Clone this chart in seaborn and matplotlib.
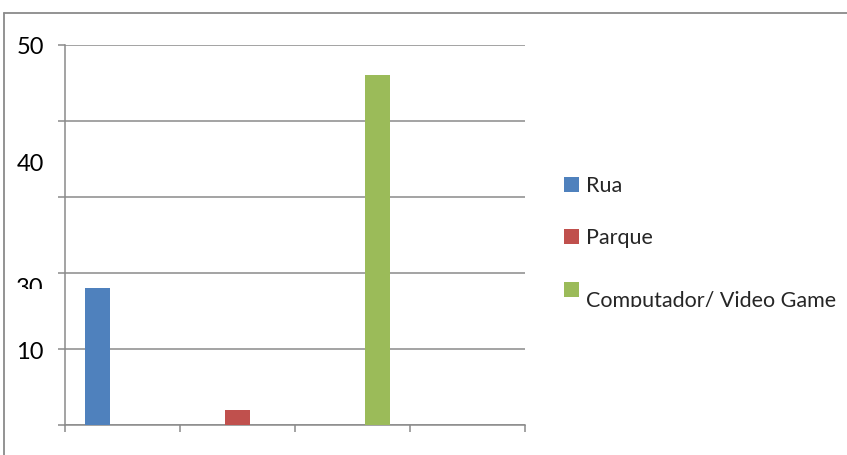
import pandas as pd
import numpy as np
import matplotlib.pyplot as plt
import seaborn as sns
from matplotlib.patches import Patch, Rectangle
from matplotlib.lines import Line2D

sns.set_style('white')
plt.rcParams['font.family'] = ['Lato', 'DejaVu Sans']

# Data
slots = ['1', '2', '3', '4']
series = ['Rua', 'Parque', 'Computador/ Video Game']
rua = [18, 0, 0, 0]
parque = [0, 2, 0, 0]
computador = [0, 0, 46, 0]
colors = ['#4F81BD', '#C0504D', '#9BBB59']

# the axis labels in the original are misplaced; keep them where they were drawn
ylabel_texts = ['50', '40', '30', '10']
ylabel_pos = [49.7, 34.3, 18.0, 9.6]

df = pd.DataFrame({
    'slot': slots * 3,
    'serie': np.repeat(series, len(slots)),
    'value': rua + parque + computador,
})

gray = '#8a8a8a'
fig = plt.figure(figsize=(8.47, 4.55), dpi=100)
ax = fig.add_axes([65/847, 1 - 425/455, 460/847, 380/455])

sns.barplot(data=df, x='slot', y='value', hue='serie', palette=colors,
            saturation=1, width=0.65, ax=ax, legend=False, zorder=3,
            linewidth=0, edgecolor='none')

ax.set_xlim(-0.5, 3.5)
ax.set_ylim(0, 50)
ax.set_xticks(np.arange(-0.5, 4, 1))
ax.set_xticklabels([])
ax.set_yticks([0, 10, 20, 30, 40, 50])
ax.set_yticklabels([])
ax.set_xlabel('')
ax.set_ylabel('')
ax.grid(axis='y', color=gray, linewidth=1.1, zorder=0)
ax.set_axisbelow(True)
ax.tick_params(axis='both', direction='out', length=5, width=1.1, color=gray,
               left=True, bottom=True)
for side in ['top', 'right']:
    ax.spines[side].set_visible(False)
for side in ['left', 'bottom']:
    ax.spines[side].set_color(gray)
    ax.spines[side].set_linewidth(1.1)

clip_30 = Rectangle((0, 1 - 289/455), 1, 1, transform=fig.transFigure)
for lab, pos in zip(ylabel_texts, ylabel_pos):
    t = ax.text(-0.046, pos, lab, transform=ax.get_yaxis_transform(),
                ha='right', va='center', fontsize=17, color='black')
    if lab == '30':
        t.set_clip_on(True)
        t.set_clip_path(clip_30)

handles = [Patch(facecolor=c, edgecolor='none') for c in colors]
leg = fig.legend(handles, series, loc='upper left',
                 bbox_to_anchor=(564/847, 1 - 176/455), frameon=False,
                 fontsize=15.5, handlelength=0.7, handleheight=0.7,
                 handletextpad=0.32, labelspacing=1.5, borderaxespad=0,
                 borderpad=0)
# last entry sits lower than its marker and is cut off at the bottom
last = leg.get_texts()[2]
last.set_y(-10)
clip_leg = Rectangle((0, 1 - 307/455), 1, 1, transform=fig.transFigure)
last.set_clip_on(True)
last.set_clip_path(clip_leg)

# outer chart frame
fig.add_artist(Line2D([4/847, 4/847], [0, 1 - 13/455], color=gray,
                      linewidth=1.3, transform=fig.transFigure))
fig.add_artist(Line2D([4/847, 1], [1 - 13/455, 1 - 13/455], color=gray,
                      linewidth=1.3, transform=fig.transFigure))

plt.savefig('out.png', dpi=100)
plt.close()
